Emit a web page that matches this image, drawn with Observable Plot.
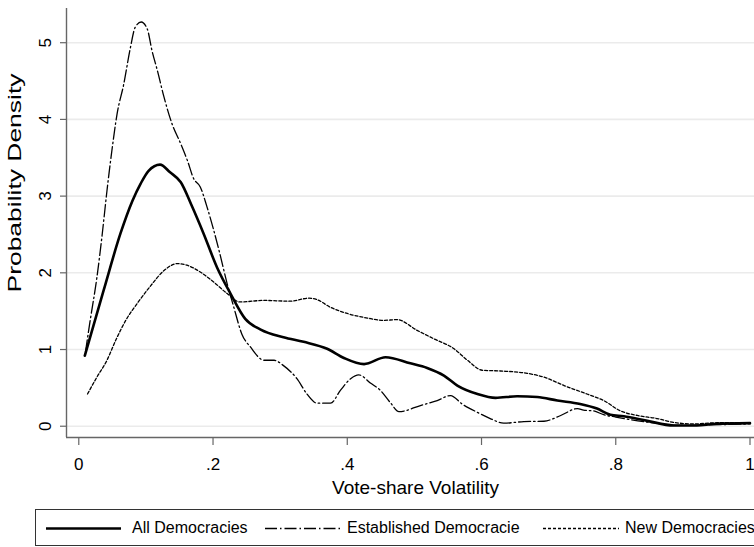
<!DOCTYPE html>
<html><head><meta charset="utf-8">
<script src="https://cdn.jsdelivr.net/npm/d3@7"></script>
<script src="https://cdn.jsdelivr.net/npm/@observablehq/plot@0.6"></script>
<style>
body{margin:0;background:#fff;overflow:hidden;font-family:"Liberation Sans",Arial,sans-serif;}
#wrap{position:relative;width:754px;height:547px;overflow:hidden;}
#legend{position:absolute;left:35px;top:509px;width:760px;height:37px;border:1px solid #333;box-sizing:border-box;}
#legend .sw{position:absolute;top:0;height:36px;}
#legend .lb{position:absolute;top:0;line-height:36px;font-size:16px;color:#000;white-space:nowrap;}
</style></head><body><div id="wrap"><div id="chart"></div><div id="legend"></div></div>
<script>
// Tick values
const xTicks = [0, 0.2, 0.4, 0.6, 0.8, 1];
const xTickLabels = ["0", ".2", ".4", ".6", ".8", "1"];
const yTicks = [0, 1, 2, 3, 4, 5];
const xTitle = "Vote-share Volatility";
const yTitle = "Probability Density";
const seriesNames = ["All Democracies", "Established Democracie", "New Democracies"];

// All Democracies
const allX = [0.009,0.037,0.062,0.080,0.092,0.104,0.121,0.136,0.152,0.168,0.186,0.206,0.226,0.248,0.271,0.305,0.335,0.370,0.395,0.425,0.457,0.494,0.519,0.544,0.564,0.594,0.621,0.653,0.683,0.713,0.747,0.772,0.792,0.812,0.847,0.886,0.921,0.946,1.0];
const allY = [0.92,1.77,2.51,2.94,3.16,3.33,3.41,3.31,3.18,2.88,2.51,2.07,1.73,1.40,1.26,1.16,1.10,1.01,0.89,0.81,0.90,0.82,0.76,0.66,0.53,0.42,0.37,0.39,0.38,0.335,0.29,0.23,0.15,0.13,0.07,0.01,0.01,0.03,0.04];

// Established Democracies
const estX = [0.010,0.017,0.027,0.035,0.042,0.050,0.057,0.067,0.077,0.084,0.093,0.102,0.109,0.117,0.127,0.139,0.152,0.162,0.171,0.181,0.191,0.209,0.221,0.231,0.243,0.256,0.276,0.291,0.305,0.325,0.340,0.355,0.375,0.390,0.405,0.417,0.435,0.449,0.464,0.477,0.509,0.534,0.554,0.571,0.594,0.613,0.633,0.663,0.693,0.718,0.743,0.752,0.767,0.782,0.800,0.850,0.900,0.950,1.000];
const estY = [0.97,1.38,1.94,2.51,3.07,3.64,4.07,4.46,4.94,5.20,5.27,5.18,4.90,4.64,4.29,3.94,3.68,3.46,3.23,3.12,2.86,2.29,1.86,1.55,1.20,1.03,0.86,0.86,0.79,0.62,0.42,0.30,0.30,0.47,0.62,0.67,0.56,0.47,0.31,0.19,0.27,0.335,0.40,0.29,0.18,0.10,0.04,0.06,0.065,0.14,0.23,0.21,0.20,0.15,0.12,0.05,0.01,0.02,0.03];

// New Democracies
const newX = [0.013,0.027,0.042,0.055,0.070,0.087,0.107,0.127,0.147,0.161,0.181,0.201,0.221,0.240,0.276,0.315,0.343,0.355,0.375,0.400,0.430,0.454,0.474,0.504,0.529,0.559,0.579,0.601,0.628,0.668,0.693,0.723,0.757,0.782,0.807,0.832,0.862,0.886,0.916,0.951,1.000];
const newY = [0.42,0.64,0.86,1.12,1.38,1.60,1.83,2.03,2.12,2.10,2.01,1.88,1.73,1.62,1.64,1.63,1.67,1.65,1.55,1.47,1.41,1.38,1.39,1.25,1.14,1.01,0.86,0.73,0.72,0.69,0.64,0.53,0.42,0.335,0.20,0.14,0.10,0.05,0.03,0.045,0.045];

const styles = [
  {stroke:"#000", strokeWidth:2.6, dash:null},
  {stroke:"#000", strokeWidth:1.3, dash:"12,3,1.5,3"},
  {stroke:"#000", strokeWidth:1.3, dash:"3,2"}
];
const toRows = (xs, ys) => xs.map((x, i) => ({x, y: ys[i]}));
const rows = [toRows(allX, allY), toRows(estX, estY), toRows(newX, newY)];

const xDom = [-0.0183, 1.0067];
const yDom = [-0.147, 5.446];
const font = '"Liberation Sans", Arial, sans-serif';

const chart = Plot.plot({
  width: 754, height: 500,
  marginLeft: 66, marginRight: 0, marginTop: 8, marginBottom: 63,
  style: {fontFamily: font, background: "white", color: "#000", overflow: "visible"},
  x: {domain: xDom},
  y: {domain: yDom},
  marks: [
    Plot.gridY(yTicks, {stroke: "#ebebeb", strokeOpacity: 1, strokeWidth: 1.6}),
    ...[2, 1, 0].map(i => Plot.line(rows[i], {x: "x", y: "y", stroke: styles[i].stroke, strokeWidth: styles[i].strokeWidth, strokeDasharray: styles[i].dash, curve: "monotone-x"})),
    Plot.ruleX([xDom[0]], {stroke: "#666", strokeWidth: 1.4}),
    Plot.ruleY([yDom[0]], {stroke: "#666", strokeWidth: 1.4}),
    Plot.axisY(yTicks, {tickSize: 6, tickPadding: 10, tickRotate: -90, fontSize: 17, stroke: "#666", strokeWidth: 1.2, label: null, tickFormat: d => String(d)}),
    Plot.axisX(xTicks, {tickSize: 8, tickPadding: 12, fontSize: 17, stroke: "#666", strokeWidth: 1.2, label: null, tickFormat: (d, i) => xTickLabels[i]}),
    Plot.text([xTitle], {text: d => d, frameAnchor: "bottom", lineAnchor: "middle", dy: 50, dx: 5, fontSize: 19, fill: "#000"})
  ]
});
document.getElementById("chart").appendChild(chart);

// Rotated y-axis title (Stata stretches it along its length)
d3.select(chart).append("text")
  .attr("transform", "translate(21,183) rotate(-90)")
  .attr("text-anchor", "middle")
  .attr("font-size", 18)
  .attr("fill", "#000")
  .attr("textLength", 219).attr("lengthAdjust", "spacingAndGlyphs")
  .text(yTitle);

// Legend below the plot
const legend = d3.select("#legend");
const swX = [[10, 85], [229, 306], [507, 583]];
const lbX = [96, 311, 589];
seriesNames.forEach((name, i) => {
  const s = styles[i];
  const svg = legend.append("svg").attr("class", "sw")
    .style("left", swX[i][0] + "px").attr("width", swX[i][1] - swX[i][0]).attr("height", 36);
  svg.append("line").attr("x1", 0).attr("x2", swX[i][1] - swX[i][0]).attr("y1", 18.5).attr("y2", 18.5)
    .attr("stroke", s.stroke).attr("stroke-width", s.strokeWidth).attr("stroke-dasharray", s.dash);
  legend.append("div").attr("class", "lb").style("left", lbX[i] + "px").text(name);
});
</script></body></html>
